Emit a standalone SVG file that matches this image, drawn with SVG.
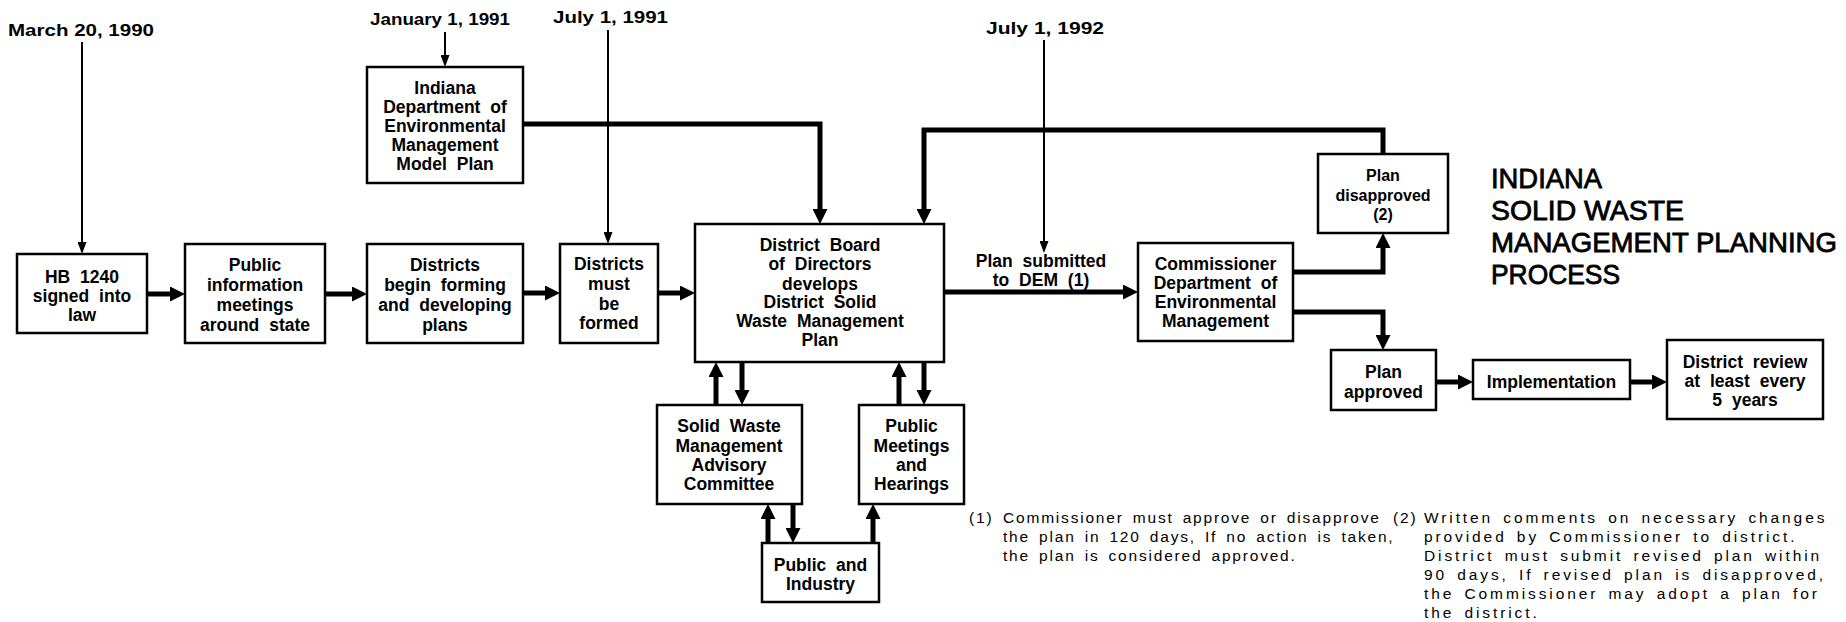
<svg xmlns="http://www.w3.org/2000/svg" width="1846" height="622" viewBox="0 0 1846 622">
<style>
.box{fill:#fff;stroke:#000;stroke-width:2.5}
.t{font-family:"Liberation Sans",Arial,sans-serif;font-weight:bold;font-size:17.5px;text-anchor:middle;word-spacing:5px;fill:#000}
.s{font-size:16px}
.d{font-family:"Liberation Sans",Arial,sans-serif;font-weight:bold;font-size:16px;fill:#000}
.title{font-family:"Liberation Sans",Arial,sans-serif;font-size:27.5px;fill:#000;stroke:#000;stroke-width:0.8}
.fn{font-family:"Liberation Sans",Arial,sans-serif;font-size:15.5px;letter-spacing:1.8px;word-spacing:3px;fill:#000}
.fn2{letter-spacing:2.9px}
.thick{fill:none;stroke:#000;stroke-width:5;marker-end:url(#ah)}
.thin{fill:none;stroke:#000;stroke-width:2;marker-end:url(#ahs)}
</style>
<defs>
<marker id="ah" markerUnits="userSpaceOnUse" markerWidth="15" markerHeight="15" viewBox="0 0 15 15" refX="9" refY="7.5" orient="auto"><path d="M0,0 L15,7.5 L0,15 z" fill="#000"/></marker>
<marker id="ahs" markerUnits="userSpaceOnUse" markerWidth="12" markerHeight="9" viewBox="0 0 12 9" refX="9" refY="4.5" orient="auto"><path d="M0,0 L12,4.5 L0,9 z" fill="#000"/></marker>
</defs>
<rect width="1846" height="622" fill="#fff"/>

<g id="dates">
<text class="d" x="8" y="36" textLength="146" lengthAdjust="spacingAndGlyphs">March 20, 1990</text>
<text class="d" x="370" y="25" textLength="140" lengthAdjust="spacingAndGlyphs">January 1, 1991</text>
<text class="d" x="553" y="23" textLength="115" lengthAdjust="spacingAndGlyphs">July 1, 1991</text>
<text class="d" x="986" y="34" textLength="118" lengthAdjust="spacingAndGlyphs">July 1, 1992</text>
</g>

<g id="connectors">
<path class="thin" d="M82,42 V251"/>
<path class="thin" d="M445,32 V64"/>
<path class="thin" d="M608,30 V241"/>
<path class="thin" d="M1044,40 V250"/>
<path class="thick" d="M147,294 H179"/>
<path class="thick" d="M325,294 H361"/>
<path class="thick" d="M523,293 H554"/>
<path class="thick" d="M658,293 H689"/>
<path class="thick" d="M523,124 H820 V218"/>
<path class="thick" d="M944,292 H1132"/>
<path class="thick" d="M1293,272 H1383 V239"/>
<path class="thick" d="M1293,312 H1383 V344"/>
<path class="thick" d="M1383,154 V130 H924 V218"/>
<path class="thick" d="M1436,382 H1467"/>
<path class="thick" d="M1630,382 H1661"/>
<path class="thick" d="M716,405 V368"/>
<path class="thick" d="M742,362 V399"/>
<path class="thick" d="M899,405 V368"/>
<path class="thick" d="M924,362 V399"/>
<path class="thick" d="M768,543 V510"/>
<path class="thick" d="M793,504 V537"/>
<path class="thick" d="M873,543 V510"/>
<text class="t"><tspan x="1041" y="267">Plan submitted</tspan><tspan x="1041" y="286">to DEM (1)</tspan></text>
</g>

<g id="hb">
<rect class="box" x="17" y="254" width="130" height="79"/>
<text class="t"><tspan x="82" y="283">HB 1240</tspan><tspan x="82" y="302">signed into</tspan><tspan x="82" y="321">law</tspan></text>
</g>
<g id="public-info">
<rect class="box" x="185" y="244" width="140" height="99"/>
<text class="t"><tspan x="255" y="271">Public</tspan><tspan x="255" y="291">information</tspan><tspan x="255" y="311">meetings</tspan><tspan x="255" y="331">around state</tspan></text>
</g>
<g id="districts-begin">
<rect class="box" x="367" y="244" width="156" height="99"/>
<text class="t"><tspan x="445" y="271">Districts</tspan><tspan x="445" y="291">begin forming</tspan><tspan x="445" y="311">and developing</tspan><tspan x="445" y="331">plans</tspan></text>
</g>
<g id="idem">
<rect class="box" x="367" y="67" width="156" height="116"/>
<text class="t"><tspan x="445" y="94">Indiana</tspan><tspan x="445" y="113">Department of</tspan><tspan x="445" y="132">Environmental</tspan><tspan x="445" y="151">Management</tspan><tspan x="445" y="170">Model Plan</tspan></text>
</g>
<g id="districts-must">
<rect class="box" x="560" y="244" width="98" height="99"/>
<text class="t"><tspan x="609" y="270">Districts</tspan><tspan x="609" y="290">must</tspan><tspan x="609" y="310">be</tspan><tspan x="609" y="329">formed</tspan></text>
</g>
<g id="board">
<rect class="box" x="695" y="224" width="249" height="138"/>
<text class="t"><tspan x="820" y="251">District Board</tspan><tspan x="820" y="270">of Directors</tspan><tspan x="820" y="290">develops</tspan><tspan x="820" y="308">District Solid</tspan><tspan x="820" y="327">Waste Management</tspan><tspan x="820" y="346">Plan</tspan></text>
</g>
<g id="swmac">
<rect class="box" x="657" y="405" width="145" height="99"/>
<text class="t"><tspan x="729" y="432">Solid Waste</tspan><tspan x="729" y="452">Management</tspan><tspan x="729" y="471">Advisory</tspan><tspan x="729" y="490">Committee</tspan></text>
</g>
<g id="public-meetings">
<rect class="box" x="859" y="405" width="105" height="99"/>
<text class="t"><tspan x="911.5" y="432">Public</tspan><tspan x="911.5" y="452">Meetings</tspan><tspan x="911.5" y="471">and</tspan><tspan x="911.5" y="490">Hearings</tspan></text>
</g>
<g id="public-industry">
<rect class="box" x="762" y="543" width="117" height="59"/>
<text class="t"><tspan x="820.5" y="571">Public and</tspan><tspan x="820.5" y="590">Industry</tspan></text>
</g>
<g id="commissioner">
<rect class="box" x="1138" y="243" width="155" height="98"/>
<text class="t"><tspan x="1215.5" y="270">Commissioner</tspan><tspan x="1215.5" y="289">Department of</tspan><tspan x="1215.5" y="308">Environmental</tspan><tspan x="1215.5" y="327">Management</tspan></text>
</g>
<g id="disapproved">
<rect class="box" x="1318" y="154" width="130" height="79"/>
<text class="t s" x="1383" y="181">Plan</text>
<text class="t s" x="1383" y="200.5">disapproved</text>
<text class="t s" x="1383" y="220">(2)</text>
</g>
<g id="approved">
<rect class="box" x="1331" y="350" width="105" height="60"/>
<text class="t"><tspan x="1383.5" y="378">Plan</tspan><tspan x="1383.5" y="398">approved</tspan></text>
</g>
<g id="implementation">
<rect class="box" x="1473" y="360" width="157" height="39"/>
<text class="t" x="1551.5" y="388">Implementation</text>
</g>
<g id="review">
<rect class="box" x="1667" y="340" width="156" height="79"/>
<text class="t"><tspan x="1745" y="368">District review</tspan><tspan x="1745" y="387">at least every</tspan><tspan x="1745" y="406">5 years</tspan></text>
</g>

<g id="title">
<text class="title" x="1491" y="188" textLength="111" lengthAdjust="spacingAndGlyphs">INDIANA</text>
<text class="title" x="1491" y="220" textLength="193" lengthAdjust="spacingAndGlyphs">SOLID  WASTE</text>
<text class="title" x="1491" y="252" textLength="346" lengthAdjust="spacingAndGlyphs">MANAGEMENT  PLANNING</text>
<text class="title" x="1491" y="284" textLength="129" lengthAdjust="spacingAndGlyphs">PROCESS</text>
</g>

<g id="footnotes">
<text class="fn" x="969" y="523">(1)</text>
<text class="fn" x="1003" y="523">Commissioner must approve or disapprove</text>
<text class="fn" x="1003" y="542">the plan in 120 days, If no action is taken,</text>
<text class="fn" x="1003" y="561">the plan is considered approved.</text>
<text class="fn" x="1393" y="523">(2)</text>
<text class="fn fn2" x="1424" y="523">Written comments on necessary changes</text>
<text class="fn fn2" x="1424" y="542">provided by Commissioner to district.</text>
<text class="fn fn2" x="1424" y="561">District must submit revised plan within</text>
<text class="fn fn2" x="1424" y="580">90 days, If revised plan is disapproved,</text>
<text class="fn fn2" x="1424" y="599">the Commissioner may adopt a plan for</text>
<text class="fn fn2" x="1424" y="618">the district.</text>
</g>
</svg>
